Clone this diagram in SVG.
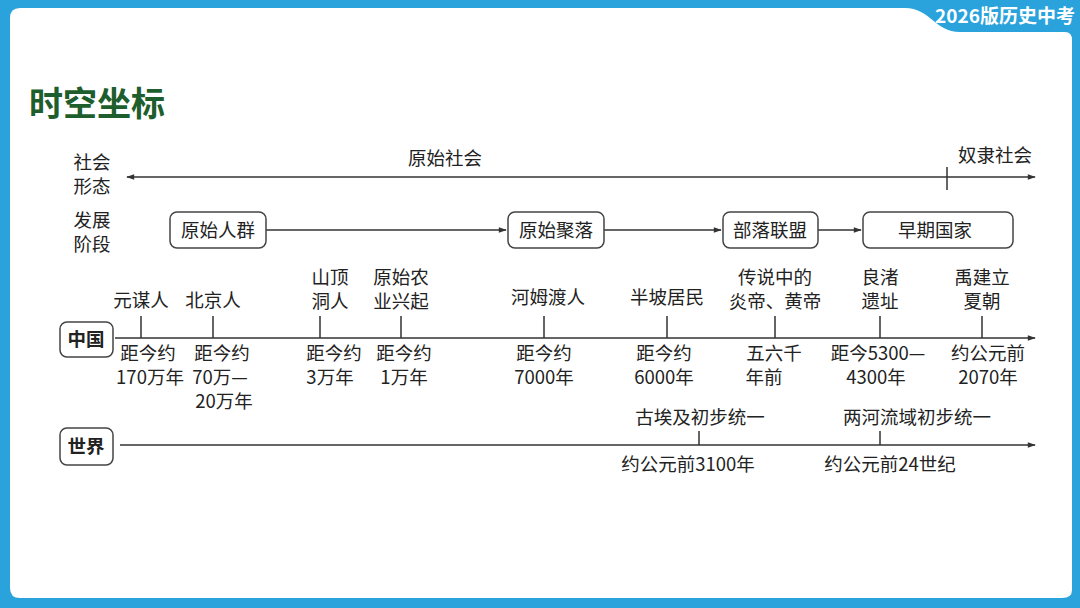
<svg xmlns="http://www.w3.org/2000/svg" width="1080" height="608" viewBox="0 0 1080 608">
<defs>
<style>
.t{font-family:"Noto Sans CJK SC","Noto Sans",sans-serif;font-size:18.5px;fill:#222;text-anchor:middle}
.l{stroke:#333;stroke-width:1.5;fill:none}
.b{fill:#fff;stroke:#444;stroke-width:1.5}
</style>
<marker id="a" viewBox="0 0 10 10" refX="9" refY="5" markerWidth="10" markerHeight="8" orient="auto-start-reverse" markerUnits="userSpaceOnUse"><path d="M0,1.5 L10,5 L0,8.5 Z" fill="#333"/></marker>
</defs>
<rect width="1080" height="608" fill="#2aa3dc"/>
<path d="M20,8 H905 C930,8 935,32 960,32 H1065 Q1072,32 1072,40 V590 Q1072,598 1062,598 H20 Q10,598 10,588 V18 Q10,8 20,8 Z" fill="#fff"/>
<text x="1005" y="23" font-family="Noto Sans CJK SC,sans-serif" font-size="19" font-weight="bold" fill="#fff" text-anchor="middle">2026版历史中考</text>
<text x="29" y="116" font-family="Noto Sans CJK SC,sans-serif" font-size="34" font-weight="bold" fill="#1d5e2c">时空坐标</text>
<g id="connectors">
<line class="l" x1="127" y1="177" x2="1035" y2="177" marker-start="url(#a)" marker-end="url(#a)"/>
<line class="l" x1="947" y1="167" x2="947" y2="190"/>
<line class="l" x1="266" y1="230" x2="506" y2="230" marker-end="url(#a)"/>
<line class="l" x1="604" y1="230" x2="721" y2="230" marker-end="url(#a)"/>
<line class="l" x1="818" y1="230" x2="861" y2="230" marker-end="url(#a)"/>
<line class="l" x1="115" y1="338" x2="1035" y2="338" marker-end="url(#a)"/>
<path class="l" d="M141,316V338M213,316V338M320,316V338M401,316V338M544,316V338M667,316V338M775,316V338M880,316V338M982,316V338"/>
<line class="l" x1="120" y1="445" x2="1035" y2="445" marker-end="url(#a)"/>
<path class="l" d="M699,431V445M880,431V445"/>
</g>
<text class="t" x="92" y="169">社会</text><text class="t" x="92" y="193">形态</text>
<text class="t" x="92" y="227">发展</text><text class="t" x="92" y="251">阶段</text>
<text class="t" x="445" y="165">原始社会</text>
<text class="t" x="995" y="162">奴隶社会</text>
<g id="n1"><rect class="b" x="170" y="212" width="96" height="36" rx="7"/><text class="t" x="218" y="237">原始人群</text></g>
<g id="n2"><rect class="b" x="508" y="212" width="96" height="36" rx="7"/><text class="t" x="556" y="237">原始聚落</text></g>
<g id="n3"><rect class="b" x="723" y="212" width="95" height="36" rx="7"/><text class="t" x="770" y="237">部落联盟</text></g>
<g id="n4"><rect class="b" x="863" y="212" width="150" height="36" rx="7"/><text class="t" x="935" y="237">早期国家</text></g>
<g id="cn"><rect class="b" x="60" y="322" width="53" height="35" rx="7"/><text class="t" x="86" y="346" font-weight="bold">中国</text></g>
<g id="world"><rect class="b" x="60" y="428" width="53" height="37" rx="7"/><text class="t" x="86" y="453" font-weight="bold">世界</text></g>
<g id="labels">
<text class="t" x="141" y="307">元谋人</text>
<text class="t" x="213" y="307">北京人</text>
<text class="t" x="330" y="284">山顶</text><text class="t" x="330" y="308">洞人</text>
<text class="t" x="401" y="284">原始农</text><text class="t" x="401" y="308">业兴起</text>
<text class="t" x="548" y="304">河姆渡人</text>
<text class="t" x="667" y="304">半坡居民</text>
<text class="t" x="775" y="284">传说中的</text><text class="t" x="775" y="308">炎帝、黄帝</text>
<text class="t" x="880" y="284">良渚</text><text class="t" x="880" y="308">遗址</text>
<text class="t" x="982" y="284">禹建立</text><text class="t" x="982" y="308">夏朝</text>
<text class="t" x="148" y="360">距今约</text><text class="t" x="150" y="384">170万年</text>
<text class="t" x="222" y="360">距今约</text><text class="t" x="220" y="384">70万—</text><text class="t" x="224" y="408">20万年</text>
<text class="t" x="334" y="360">距今约</text><text class="t" x="330" y="384">3万年</text>
<text class="t" x="404" y="360">距今约</text><text class="t" x="404" y="384">1万年</text>
<text class="t" x="544" y="360">距今约</text><text class="t" x="544" y="384">7000年</text>
<text class="t" x="664" y="360">距今约</text><text class="t" x="664" y="384">6000年</text>
<text class="t" x="774" y="360">五六千</text><text class="t" x="764" y="384">年前</text>
<text class="t" x="878" y="360">距今5300—</text><text class="t" x="876" y="384">4300年</text>
<text class="t" x="988" y="360">约公元前</text><text class="t" x="988" y="384">2070年</text>
<text class="t" x="700" y="424">古埃及初步统一</text>
<text class="t" x="917" y="424">两河流域初步统一</text>
<text class="t" x="688" y="471">约公元前3100年</text>
<text class="t" x="890" y="471">约公元前24世纪</text>
</g>
</svg>
